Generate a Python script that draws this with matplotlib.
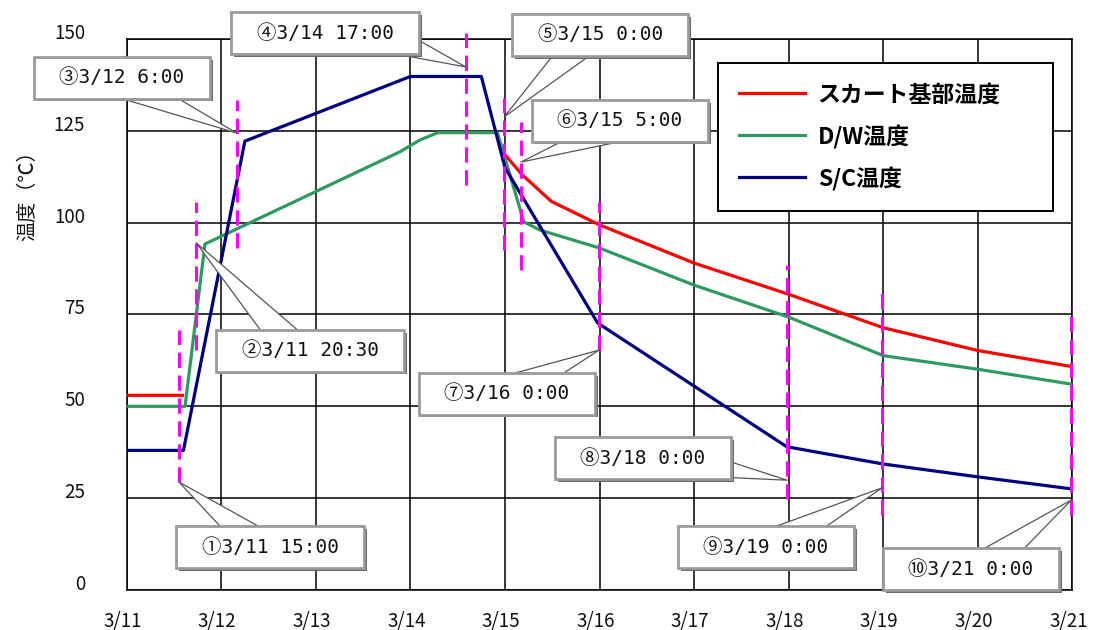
import numpy as np
import matplotlib
matplotlib.use('Agg')
import matplotlib.pyplot as plt
from matplotlib import patheffects, transforms
from matplotlib.lines import Line2D
from matplotlib.path import Path

plt.rcParams['font.family'] = ['Noto Sans CJK JP', 'DejaVu Sans']

# ---------------- data (x = days since 3/11 0:00) ----------------
x_tick_labels = ['3/11', '3/12', '3/13', '3/14', '3/15', '3/16',
                 '3/17', '3/18', '3/19', '3/20', '3/21']
y_ticks = [0, 25, 50, 75, 100, 125, 150]

series_names = ['スカート基部温度', 'D/W温度', 'S/C温度']

skirt_x = [0.0, 0.59, np.nan, 4.0, 4.18, 4.49, 5.0, 6.0, 7.0, 8.0, 9.0, 10.0]
skirt_y = [53, 53, np.nan, 118.5, 113.1, 105.8, 99.4, 89.0, 80.5, 71.4, 65.2, 60.8]

dw_x = [0.0, 0.617, 0.828, 2.89, 3.10, 3.29, 3.92, 4.20, 4.37, 5.0, 6.0, 7.0, 8.0, 9.0, 10.0]
dw_y = [50, 50, 94.2, 119.3, 122.5, 124.5, 124.5, 100.2, 98.0, 93.1, 83.0, 74.3, 63.8, 60.1, 56.0]

sc_x = [0.0, 0.6, 1.25, 3.0, 3.75, 4.0, 4.98, 6.98, 8.0, 9.0, 10.0]
sc_y = [38, 38, 122.2, 139.8, 139.8, 115.0, 72.7, 39.0, 34.3, 30.8, 27.5]

event_labels = ['①3/11 15:00', '②3/11 20:30', '③3/12 6:00', '④3/14 17:00',
                '⑤3/15 0:00', '⑥3/15 5:00', '⑦3/16 0:00', '⑧3/18 0:00',
                '⑨3/19 0:00', '⑩3/21 0:00']
event_x = [0.553, 0.736, 1.163, 3.585, 3.993, 4.17, 4.995, 6.983, 7.988, 9.99]
event_top = [70.8, 105.7, 133.4, 151.6, 134.0, 127.5, 105.7, 88.5, 81.9, 76.8]
event_bottom = [29.4, 65.3, 93.1, 110.3, 92.6, 87.1, 65.3, 24.8, 20.4, 20.4]
event_point_y = [29.4, 94.5, 124.4, 142.4, 128.8, 116.5, 65.3, 29.9, 27.8, 24.5]

# ---------------- layout for callout boxes ----------------
label_pos = [(1.517, 11.7), (1.939, 65.1), (-0.05, 139.4), (2.098, 151.6),
             (5.007, 151.1), (5.218, 127.7), (4.022, 53.4), (5.46, 35.9),
             (6.76, 11.7), (8.93, 5.7)]
label_relpos = [(0.44, 0.5), (0.40, 0.5), (0.41, 0.5), (0.85, 0.5),
                (0.42, 0.5), (0.65, 0.5), (0.455, 0.5), (0.68, 0.5),
                (0.51, 0.5), (0.58, 0.5)]


def callout_box(x0, y0, width, height, mutation_size):
    padx = 1.3 * mutation_size
    pady = 0.58 * mutation_size
    x0, y0 = x0 - padx, y0 - pady
    x1, y1 = x0 + width + 2 * padx, y0 + height + 2 * pady
    return Path([(x0, y0), (x1, y0), (x1, y1), (x0, y1), (x0, y0)],
                closed=True)


W, H = 1094, 630
fig = plt.figure(figsize=(W / 100, H / 100), dpi=100)
ax = fig.add_axes([126.7 / W, (H - 590) / H, (1072.3 - 126.7) / W, (590 - 39) / H])

ax.set_xlim(0, 10)
ax.set_ylim(0, 150)
ax.set_xticks(range(len(x_tick_labels)))
ax.set_xticklabels(x_tick_labels)
ax.set_yticks(y_ticks)
ax.set_yticklabels([str(v) for v in y_ticks])
ax.tick_params(axis='both', length=0, labelsize=13.5, colors='#111111')
ax.tick_params(axis='x', pad=15)
ax.tick_params(axis='y', pad=30)
ax.grid(True, color='black', lw=1.1)
ax.set_axisbelow(True)
for s in ax.spines.values():
    s.set_color('black')
    s.set_linewidth(1.1)

offy = transforms.ScaledTranslation(0, 0.08, fig.dpi_scale_trans)
for lab in ax.get_yticklabels():
    lab.set_transform(lab.get_transform() + offy)
offx = transforms.ScaledTranslation(-0.04, 0, fig.dpi_scale_trans)
for lab in ax.get_xticklabels():
    lab.set_transform(lab.get_transform() + offx)

colors = ['#ff0000', '#2e9960', '#000080']
ax.plot(skirt_x, skirt_y, color=colors[0], lw=2.3, zorder=4)
ax.plot(dw_x, dw_y, color=colors[1], lw=2.3, zorder=4)
ax.plot(sc_x, sc_y, color=colors[2], lw=2.3, zorder=4)

ax.vlines(event_x, event_bottom, event_top, colors='#ff00ff', lw=2.2,
          linestyles=(0, (5, 2.5)), zorder=5, clip_on=False)

for lab, ex, py, tp, rp in zip(event_labels, event_x, event_point_y, label_pos, label_relpos):
    ann = ax.annotate(
        lab, xy=(ex, py), xytext=tp, textcoords='data',
        ha='center', va='center', fontsize=14, color='#111111',
        family=['DejaVu Sans Mono', 'Noto Sans CJK JP'],
        bbox=dict(boxstyle=callout_box, fc='white', ec='#9a9a9a', lw=2),
        arrowprops=dict(arrowstyle='wedge,tail_width=2.4', mutation_scale=10,
                        fc='white', ec='#555555', lw=0.9, relpos=rp,
                        shrinkA=0, shrinkB=0, patchA=None),
        annotation_clip=False, zorder=8)
    ann.get_bbox_patch().set_path_effects([
        patheffects.SimplePatchShadow(offset=(2, -2), shadow_rgbFace='#6a6a6a', alpha=1.0),
        patheffects.Normal()])

handles = [Line2D([], [], color=c, lw=2.3) for c in colors]
leg = ax.legend(handles, series_names, loc='upper left',
                bbox_to_anchor=(718 / W, 1 - 62.7 / H, (1052.7 - 718) / W, 0),
                bbox_transform=fig.transFigure, mode='expand', borderaxespad=0,
                prop={'weight': 'bold', 'size': 16.5}, fancybox=False,
                edgecolor='black', framealpha=1, borderpad=0.9,
                handlelength=2.9, handletextpad=0.55, labelspacing=0.78)
leg.get_frame().set_linewidth(1.4)
leg.set_zorder(9)

fig.text(28 / W, 1 - 191 / H, '温度（℃）', rotation=90, ha='center', va='center',
         fontsize=14.5, color='#111111')

fig.savefig('out.png', dpi=100)
